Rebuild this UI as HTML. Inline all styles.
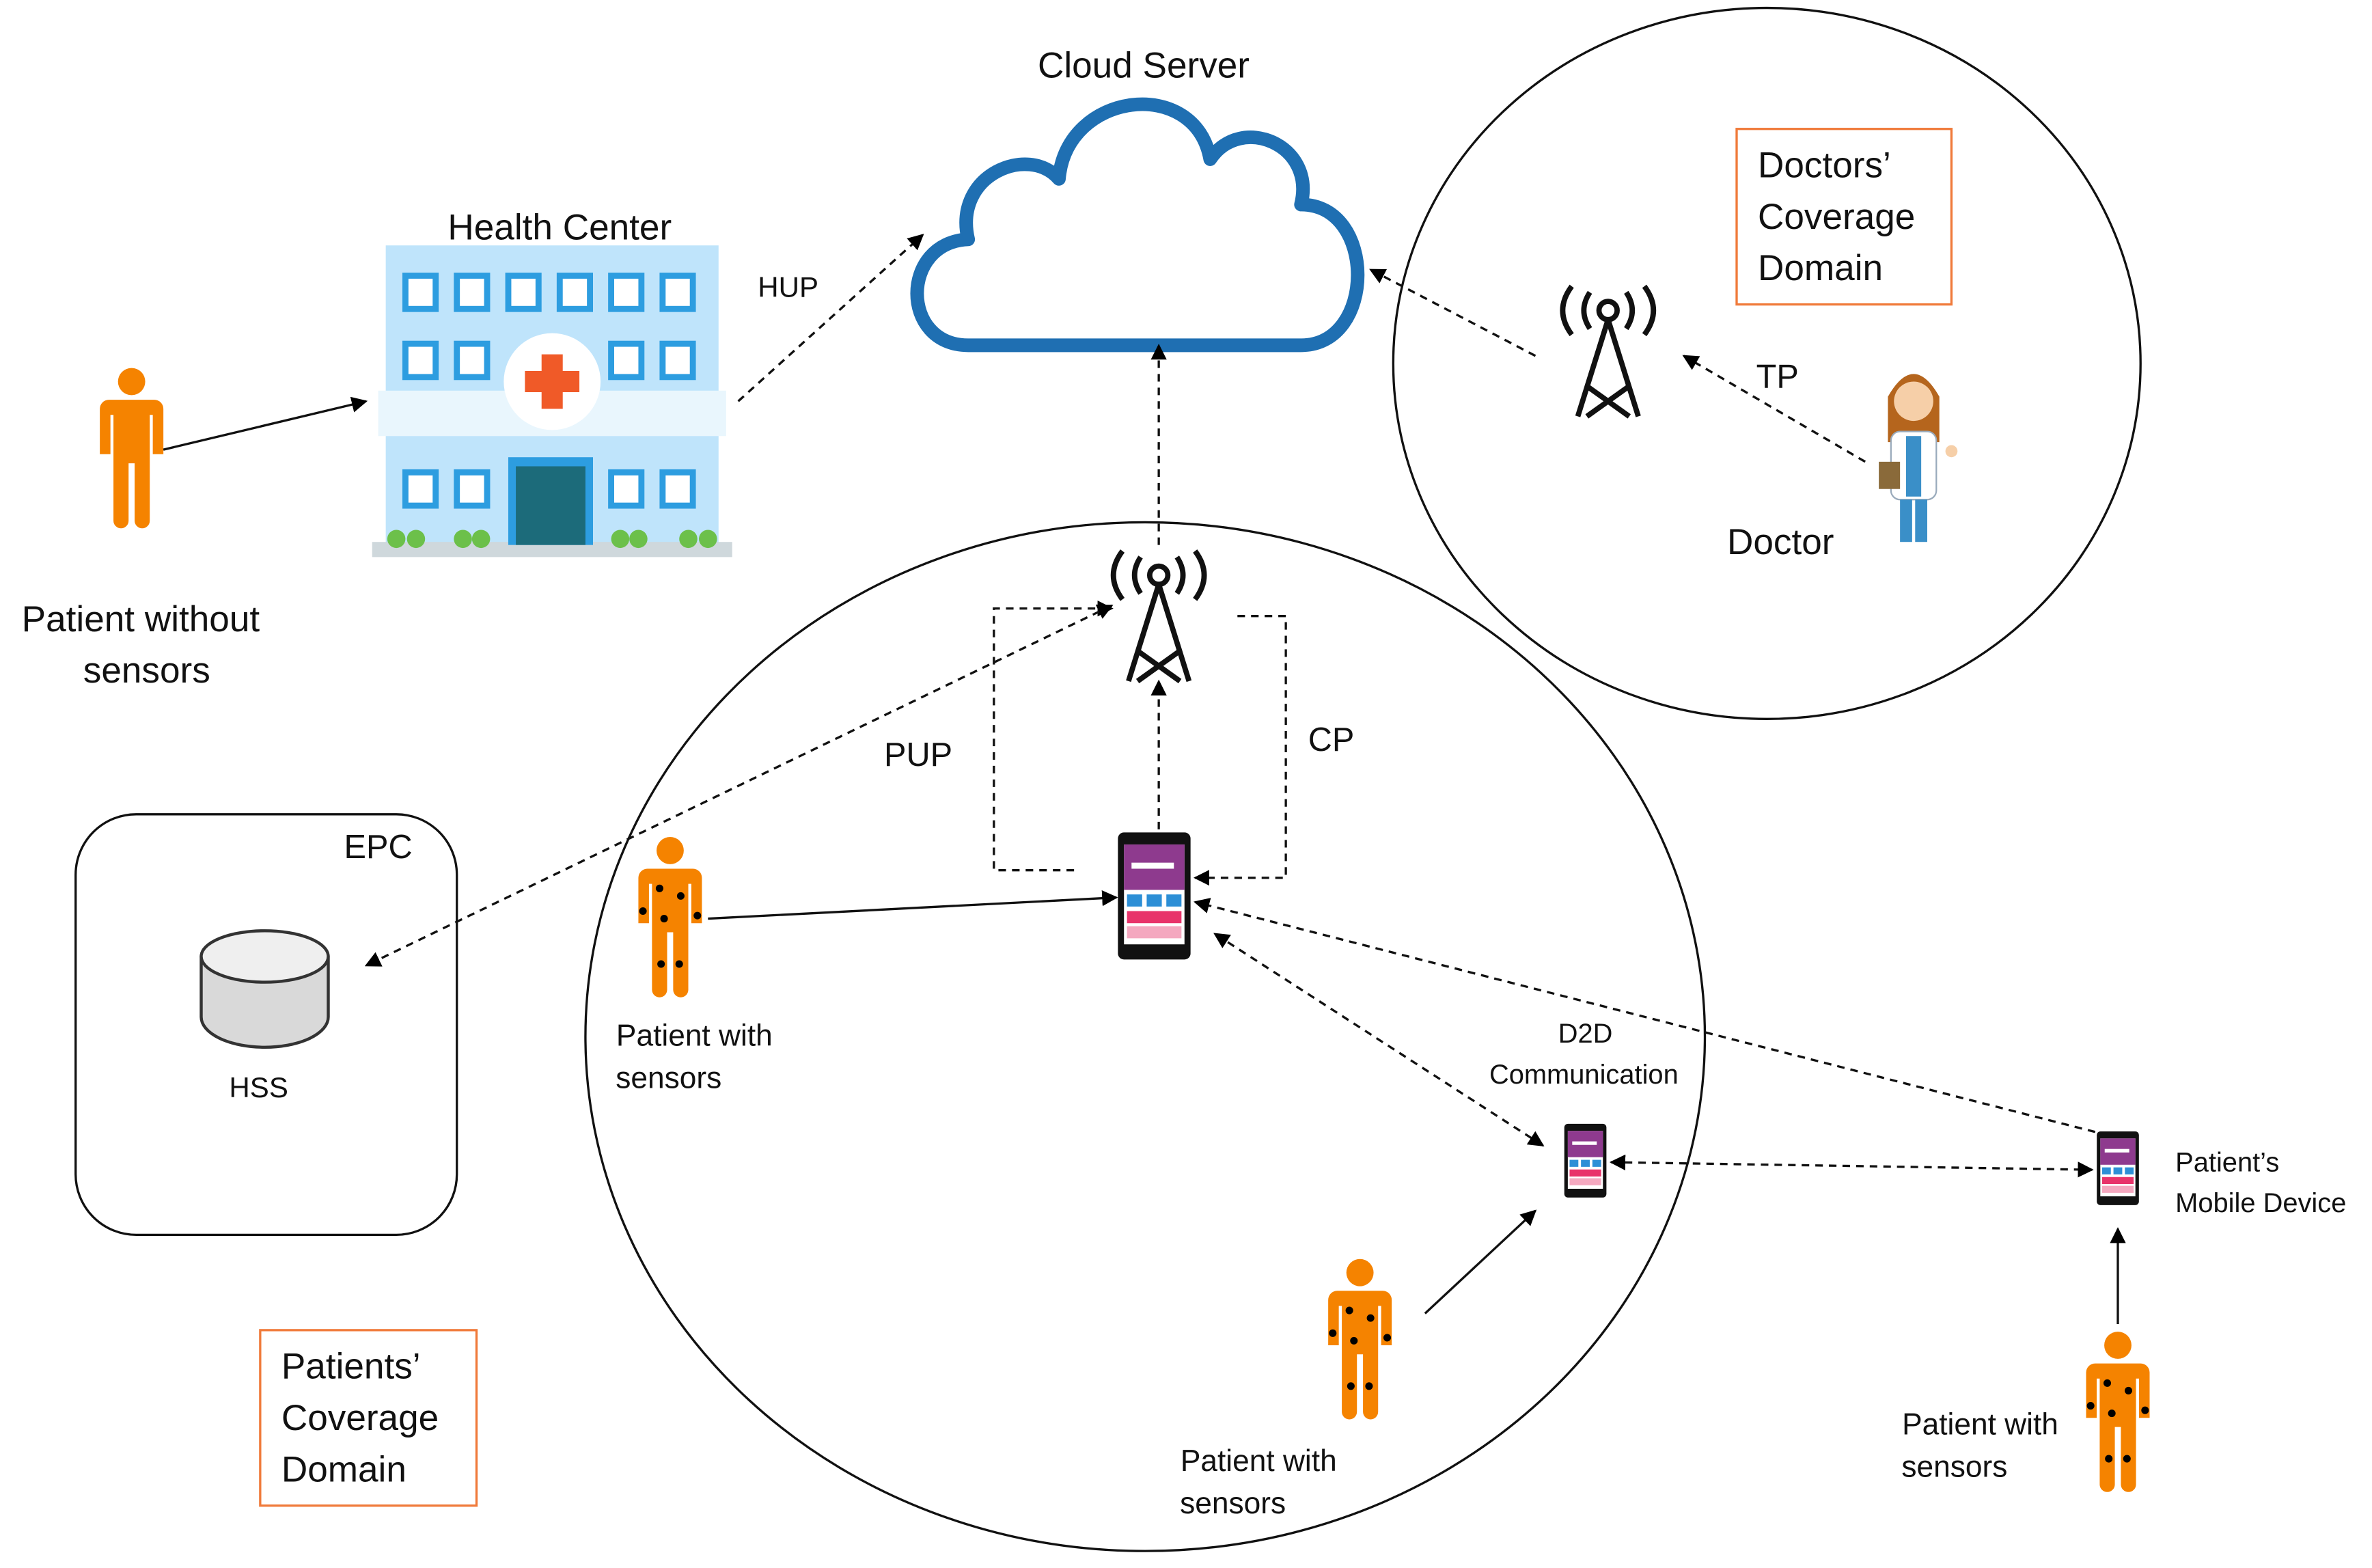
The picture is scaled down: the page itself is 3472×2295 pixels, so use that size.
<!DOCTYPE html>
<html><head><meta charset="utf-8"><style>
html,body{margin:0;padding:0;background:#fff}
svg{display:block}
text{font-family:"Liberation Sans","DejaVu Sans",sans-serif;fill:#111}
</style></head><body>
<svg width="3472" height="2295" viewBox="0 0 1568 1036" xmlns="http://www.w3.org/2000/svg">
<defs>
<marker id="a" viewBox="0 0 10 10" refX="9" refY="5" markerWidth="7" markerHeight="7" orient="auto-start-reverse"><path d="M0,0 L10,5 L0,10 z" fill="#000"/></marker>
<g id="person">
<circle cx="0" cy="-45" r="9" fill="#f58300"/>
<path d="M-15,-33 h30 a6,6 0 0 1 6,6 v30 h-7 v-26 h-2 v70 a5,5 0 0 1 -10,0 v-38 h-4 v38 a5,5 0 0 1 -10,0 v-70 h-2 v26 h-7 v-30 a6,6 0 0 1 6,-6z" fill="#f58300"/>
</g>
<g id="dots" fill="#000">
<circle cx="-7" cy="-20" r="2.5"/><circle cx="7" cy="-15" r="2.5"/><circle cx="-4" cy="0" r="2.5"/><circle cx="-18" cy="-5" r="2.5"/><circle cx="18" cy="-2" r="2.5"/><circle cx="-6" cy="30" r="2.5"/><circle cx="6" cy="30" r="2.5"/>
</g>
<g id="tower" fill="none" stroke="#111" stroke-width="3.5">
<circle cx="0" cy="-30" r="6"/>
<path d="M0,-24 L-20,40 M0,-24 L20,40 M-14,20 L14,40 M14,20 L-14,40 M-12,-42 q-8,12 0,24 M12,-42 q8,12 0,24 M-24,-46 q-12,16 0,32 M24,-46 q12,16 0,32"/>
</g>
<g id="phone">
<rect x="-24" y="-42" width="48" height="84" rx="4" fill="#111"/>
<rect x="-20" y="-34" width="40" height="66" fill="#fff"/>
<rect x="-20" y="-34" width="40" height="30" fill="#8e3a8e"/>
<rect x="-15" y="-22" width="28" height="4" fill="#fff"/>
<rect x="-18" y="-1" width="10" height="8" fill="#2d8fd6"/><rect x="-5" y="-1" width="10" height="8" fill="#2d8fd6"/><rect x="8" y="-1" width="10" height="8" fill="#2d8fd6"/>
<rect x="-18" y="10" width="36" height="8" fill="#e8336a"/>
<rect x="-18" y="20" width="36" height="8" fill="#f4a8bf"/>
</g>
</defs>

<!-- domains -->
<ellipse cx="1168" cy="240" rx="247" ry="235" fill="none" stroke="#111" stroke-width="1.5"/>
<ellipse cx="757" cy="685" rx="370" ry="340" fill="none" stroke="#111" stroke-width="1.5"/>
<rect x="50" y="538" width="252" height="278" rx="40" fill="none" stroke="#111" stroke-width="1.5"/>

<!-- cloud -->
<path d="M640,228 C595,228 595,160 640,158 C630,115 680,95 700,118 C705,60 790,50 800,105 C820,75 870,95 860,135 C910,135 910,228 860,228 Z" fill="#fff" stroke="#1f6fb2" stroke-width="9" stroke-linejoin="round"/>
<text x="756" y="51" font-size="24" text-anchor="middle">Cloud Server</text>

<!-- doctors box -->
<rect x="1148" y="85" width="142" height="116" fill="none" stroke="#f07a3a" stroke-width="1.5"/>
<text x="1162" y="117" font-size="24">Doctors’</text>
<text x="1162" y="151" font-size="24">Coverage</text>
<text x="1162" y="185" font-size="24">Domain</text>

<!-- patients box -->
<rect x="172" y="879" width="143" height="116" fill="none" stroke="#f07a3a" stroke-width="1.5"/>
<text x="186" y="911" font-size="24">Patients’</text>
<text x="186" y="945" font-size="24">Coverage</text>
<text x="186" y="979" font-size="24">Domain</text>

<!-- health center -->
<text x="370" y="158" font-size="24" text-anchor="middle">Health Center</text>
<rect x="255" y="162" width="220" height="100" fill="#bfe4fb"/>
<rect x="250" y="258" width="230" height="30" fill="#e9f6fd"/>
<rect x="255" y="288" width="220" height="72" fill="#bfe4fb"/>
<rect x="246" y="358" width="238" height="10" fill="#cfd8dc"/>
<g fill="#fff" stroke="#2d9de0" stroke-width="4">
<rect x="268" y="182" width="20" height="22"/><rect x="302" y="182" width="20" height="22"/><rect x="336" y="182" width="20" height="22"/><rect x="370" y="182" width="20" height="22"/><rect x="404" y="182" width="20" height="22"/><rect x="438" y="182" width="20" height="22"/>
<rect x="268" y="227" width="20" height="22"/><rect x="302" y="227" width="20" height="22"/><rect x="404" y="227" width="20" height="22"/><rect x="438" y="227" width="20" height="22"/>
<rect x="268" y="312" width="20" height="22"/><rect x="302" y="312" width="20" height="22"/><rect x="404" y="312" width="20" height="22"/><rect x="438" y="312" width="20" height="22"/>
</g>
<circle cx="365" cy="252" r="32" fill="#fff"/>
<path d="M358,234 h14 v11 h11 v14 h-11 v11 h-14 v-11 h-11 v-14 h11z" fill="#f05a28"/>
<rect x="336" y="302" width="56" height="58" fill="#2d9de0"/>
<rect x="341" y="308" width="46" height="52" fill="#1c6b7a"/>
<g fill="#6cc04a"><circle cx="262" cy="356" r="6"/><circle cx="275" cy="356" r="6"/><circle cx="306" cy="356" r="6"/><circle cx="318" cy="356" r="6"/><circle cx="410" cy="356" r="6"/><circle cx="422" cy="356" r="6"/><circle cx="455" cy="356" r="6"/><circle cx="468" cy="356" r="6"/></g>

<!-- persons -->
<use href="#person" x="87" y="297"/>
<text x="93" y="417" font-size="24" text-anchor="middle">Patient without</text>
<text x="97" y="451" font-size="24" text-anchor="middle">sensors</text>
<use href="#person" x="443" y="607"/><use href="#dots" x="443" y="607"/>
<text x="459" y="691" font-size="20" text-anchor="middle">Patient with</text>
<text x="442" y="719" font-size="20" text-anchor="middle">sensors</text>
<use href="#person" x="899" y="886"/><use href="#dots" x="899" y="886"/>
<text x="832" y="972" font-size="20" text-anchor="middle">Patient with</text>
<text x="815" y="1000" font-size="20" text-anchor="middle">sensors</text>
<use href="#person" x="1400" y="934"/><use href="#dots" x="1400" y="934"/>
<text x="1309" y="948" font-size="20" text-anchor="middle">Patient with</text>
<text x="1292" y="976" font-size="20" text-anchor="middle">sensors</text>

<!-- doctor -->
<g>
<path d="M1248,262 q17,-30 34,0 v30 h-34z" fill="#b5651d"/>
<circle cx="1265" cy="265" r="13" fill="#f6cfa8"/>
<rect x="1250" y="285" width="30" height="45" rx="6" fill="#fff" stroke="#9ab" stroke-width="1"/>
<rect x="1260" y="288" width="10" height="40" fill="#3a8fc8"/>
<rect x="1242" y="305" width="14" height="18" fill="#8a6a3a"/>
<rect x="1256" y="330" width="8" height="28" fill="#3a8fc8"/><rect x="1266" y="330" width="8" height="28" fill="#3a8fc8"/>
<circle cx="1290" cy="298" r="4" fill="#f6cfa8"/>
</g>
<text x="1177" y="366" font-size="24" text-anchor="middle">Doctor</text>
<text x="1175" y="256" font-size="22" text-anchor="middle">TP</text>

<!-- towers -->
<use href="#tower" x="1063" y="235"/>
<use href="#tower" x="766" y="410"/>

<!-- phones -->
<use href="#phone" x="763" y="592"/>
<use href="#phone" x="1048" y="767" transform="translate(1048 767) scale(0.58) translate(-1048 -767)"/>
<use href="#phone" x="1400" y="772" transform="translate(1400 772) scale(0.58) translate(-1400 -772)"/>

<!-- EPC -->
<text x="250" y="567" font-size="22" text-anchor="middle">EPC</text>
<path d="M133,632 v40 a42,20 0 0 0 84,0 v-40" fill="#d9d9d9" stroke="#333" stroke-width="2"/>
<ellipse cx="175" cy="632" rx="42" ry="17" fill="#efefef" stroke="#333" stroke-width="2"/>
<text x="171" y="725" font-size="19" text-anchor="middle">HSS</text>

<!-- labels -->
<text x="521" y="196" font-size="19" text-anchor="middle">HUP</text>
<text x="607" y="506" font-size="22" text-anchor="middle">PUP</text>
<text x="880" y="496" font-size="22" text-anchor="middle">CP</text>
<text x="1048" y="689" font-size="18" text-anchor="middle">D2D</text>
<text x="1047" y="716" font-size="18" text-anchor="middle">Communication</text>
<text x="1438" y="774" font-size="18">Patient’s</text>
<text x="1438" y="801" font-size="18">Mobile Device</text>

<!-- connectors -->
<g stroke="#111" stroke-width="1.5" fill="none">
<line x1="108" y1="297" x2="242" y2="265" marker-end="url(#a)"/>
<line x1="468" y1="607" x2="738" y2="593" marker-end="url(#a)"/>
<line x1="942" y1="868" x2="1015" y2="800" marker-end="url(#a)"/>
<line x1="1400" y1="875" x2="1400" y2="812" marker-end="url(#a)"/>
</g>
<g stroke="#111" stroke-width="1.5" fill="none" stroke-dasharray="5,4">
<line x1="488" y1="265" x2="610" y2="155" marker-end="url(#a)"/>
<line x1="1015" y1="235" x2="906" y2="178" marker-end="url(#a)"/>
<line x1="1233" y1="305" x2="1113" y2="235" marker-end="url(#a)"/>
<line x1="766" y1="360" x2="766" y2="228" marker-end="url(#a)"/>
<line x1="766" y1="548" x2="766" y2="450" marker-end="url(#a)"/>
<polyline points="710,575 657,575 657,402 735,402" marker-end="url(#a)"/>
<polyline points="818,407 850,407 850,580 790,580" marker-end="url(#a)"/>
<line x1="735" y1="400" x2="242" y2="638" marker-start="url(#a)" marker-end="url(#a)"/>
<line x1="1385" y1="748" x2="790" y2="596" marker-end="url(#a)"/>
<line x1="1020" y1="757" x2="803" y2="617" marker-start="url(#a)" marker-end="url(#a)"/>
<line x1="1065" y1="768" x2="1383" y2="773" marker-start="url(#a)" marker-end="url(#a)"/>
</g>
</svg>
</body></html>
